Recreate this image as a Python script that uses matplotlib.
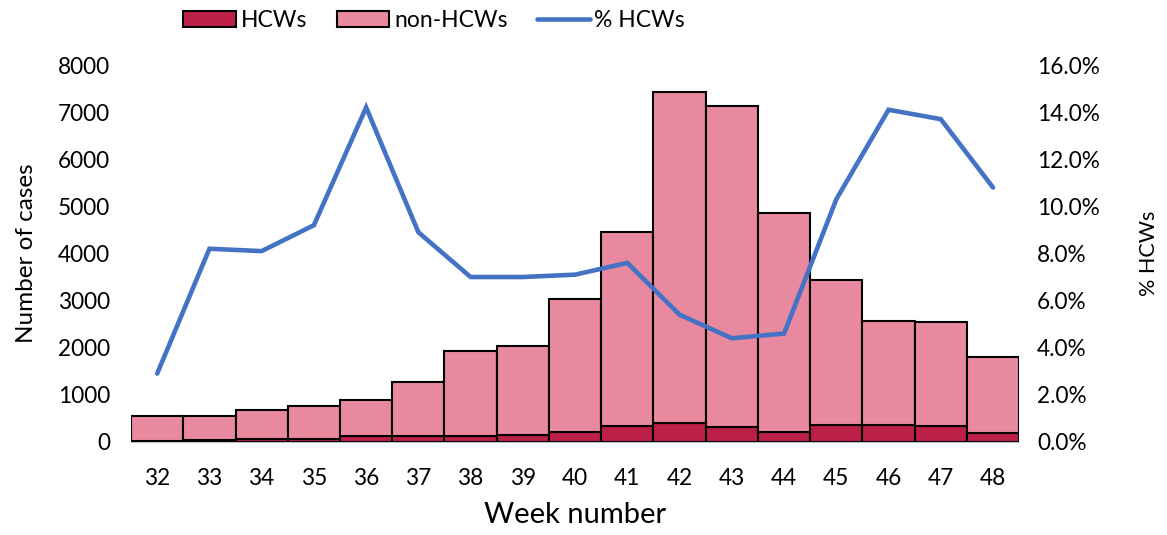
import numpy as np
import matplotlib.pyplot as plt
import matplotlib.ticker as ticker

plt.rcParams['font.family'] = ['Lato', 'DejaVu Sans']

# values
weeks = [32, 33, 34, 35, 36, 37, 38, 39, 40, 41, 42, 43, 44, 45, 46, 47, 48]
hcws = [15, 45, 55, 70, 125, 115, 135, 140, 210, 335, 400, 310, 220, 350, 360, 345, 190]
non_hcws = [525, 495, 625, 695, 760, 1160, 1795, 1900, 2825, 4125, 7030, 6820, 4640, 3090, 2210, 2205, 1610]
pct_hcws = [2.9, 8.2, 8.1, 9.2, 14.2, 8.9, 7.0, 7.0, 7.1, 7.6, 5.4, 4.4, 4.6, 10.3, 14.1, 13.7, 10.8]


def plot_data():
    fig = plt.figure(figsize=(11.67, 5.35), dpi=100)
    ax = fig.add_axes([0.1123, 0.174, 0.761, 0.7045])
    x = np.arange(len(weeks))

    b1 = ax.bar(x, hcws, width=1.0, color='#BC2047', edgecolor='black', linewidth=1.5, label='HCWs')
    b2 = ax.bar(x, non_hcws, width=1.0, bottom=hcws, color='#E9899F', edgecolor='black',
                linewidth=1.5, label='non-HCWs')

    ax.set_xlim(-0.5, len(weeks) - 0.5)
    ax.set_ylim(0, 8000)
    ax.set_yticks(range(0, 8001, 1000))
    ax.set_xticks(x)
    ax.set_xticklabels([str(w) for w in weeks])
    for s in ['top', 'right', 'left']:
        ax.spines[s].set_visible(False)
    ax.spines['bottom'].set_color('#BFBFBF')
    ax.tick_params(axis='y', length=0, labelsize=16.3, pad=15)
    ax.tick_params(axis='x', length=0, labelsize=16.3, pad=19)
    ax.set_xlabel('Week number', fontsize=21, labelpad=9)
    ax.set_ylabel('Number of cases', fontsize=17.5, labelpad=15)

    ax2 = ax.twinx()
    l1, = ax2.plot(x, pct_hcws, color='#4472C4', linewidth=3.3, label='% HCWs',
                   solid_capstyle='round', solid_joinstyle='miter')
    ax2.set_ylim(0, 16)
    ax2.set_yticks(range(0, 17, 2))
    ax2.yaxis.set_major_formatter(ticker.FuncFormatter(lambda v, p: '%.1f%%' % v))
    for s in ['top', 'right', 'left', 'bottom']:
        ax2.spines[s].set_visible(False)
    ax2.tick_params(axis='y', length=0, labelsize=16.3, pad=13)
    ax2.set_ylabel('% HCWs', fontsize=15.5, labelpad=28)

    fig.legend(handles=[b1, b2, l1], loc='center', bbox_to_anchor=(0.372, 0.962), ncol=3,
               frameon=False, fontsize=16.5, handlelength=2.3, handleheight=0.7,
               columnspacing=1.3, handletextpad=0.2)

    fig.savefig('out.png', dpi=100)


if __name__ == "__main__":
    plot_data()
